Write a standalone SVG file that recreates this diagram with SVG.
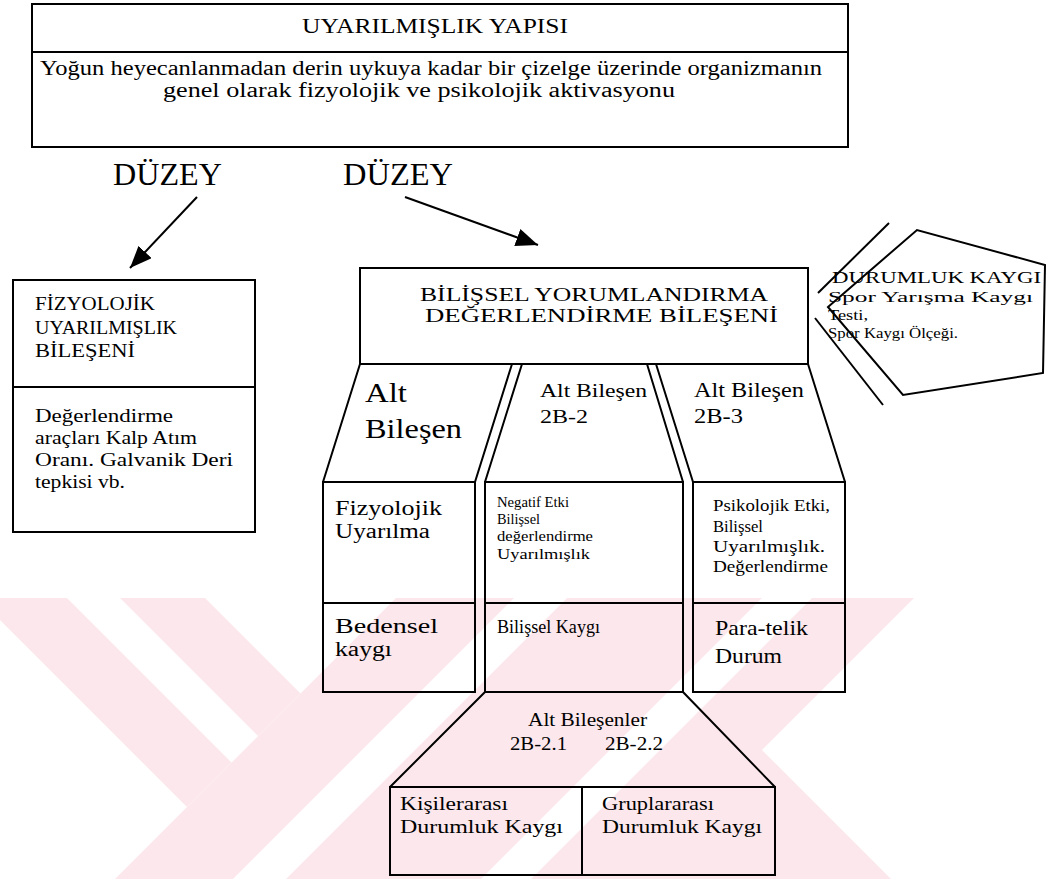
<svg xmlns="http://www.w3.org/2000/svg" width="1048" height="879" viewBox="0 0 1048 879">
<defs>
<style>
.ln{fill:none;stroke:#000;stroke-width:2;stroke-linejoin:miter}
.t{font-family:"Liberation Serif","Times New Roman",serif;fill:#000}
.wm{fill:#fce8ec;stroke:none}
.wh{fill:#fff;stroke:none}
</style>
<marker id="ah" markerUnits="userSpaceOnUse" markerWidth="24" markerHeight="18" refX="22" refY="9" orient="auto">
<path d="M0,0 L22,9 L0,18 Z" fill="#000"/>
</marker>
</defs>
<rect width="1048" height="879" fill="#fff"/>
<g id="watermark">
<polygon class="wm" points="0,598 205,598 300.5,693.5 187,807 0,620"/>
<polygon class="wm" points="396,598 914,598 762,750 891,879 115,879"/>
<polygon class="wh" points="67,598 120,598 258,736 231.5,762.5"/>
<polygon class="wh" points="514,598 567,598 286,879 233,879"/>
<polygon class="wh" points="762,598 812,598 531,879 481,879"/>
</g>
<g id="top">
<rect class="ln" x="32" y="4" width="816" height="143"/>
<line class="ln" x1="32" y1="52" x2="848" y2="52"/>
<text class="t" x="302" y="33" font-size="20" textLength="266" lengthAdjust="spacingAndGlyphs">UYARILMIŞLIK YAPISI</text>
<text class="t" x="40" y="75" font-size="20" textLength="782" lengthAdjust="spacingAndGlyphs">Yoğun heyecanlanmadan derin uykuya kadar bir çizelge üzerinde organizmanın</text>
<text class="t" x="163" y="97" font-size="20" textLength="512" lengthAdjust="spacingAndGlyphs">genel olarak fizyolojik ve psikolojik aktivasyonu</text>
</g>
<g id="duzey1"><text class="t" x="113" y="185" font-size="32" textLength="109" lengthAdjust="spacingAndGlyphs">DÜZEY</text></g>
<g id="duzey2"><text class="t" x="343" y="185" font-size="32" textLength="110" lengthAdjust="spacingAndGlyphs">DÜZEY</text></g>
<g id="connectors">
<line class="ln" x1="197" y1="197" x2="130" y2="268" marker-end="url(#ah)"/>
<line class="ln" x1="405" y1="197" x2="538" y2="245" marker-end="url(#ah)"/>
<line class="ln" x1="818" y1="293" x2="889" y2="223"/>
<line class="ln" x1="815" y1="318" x2="883" y2="405"/>
</g>
<g id="fizyolojik">
<rect class="ln" x="13" y="280" width="242" height="252"/>
<line class="ln" x1="13" y1="387" x2="255" y2="387"/>
<text class="t" x="35" y="310" font-size="19" textLength="120" lengthAdjust="spacingAndGlyphs">FİZYOLOJİK</text>
<text class="t" x="35" y="334" font-size="19" textLength="142" lengthAdjust="spacingAndGlyphs">UYARILMIŞLIK</text>
<text class="t" x="35" y="357" font-size="19" textLength="100" lengthAdjust="spacingAndGlyphs">BİLEŞENİ</text>
<text class="t" x="35" y="422" font-size="19.5" textLength="138" lengthAdjust="spacingAndGlyphs">Değerlendirme</text>
<text class="t" x="35" y="444" font-size="19.5" textLength="162" lengthAdjust="spacingAndGlyphs">araçları Kalp Atım</text>
<text class="t" x="35" y="466" font-size="19.5" textLength="198" lengthAdjust="spacingAndGlyphs">Oranı. Galvanik Deri</text>
<text class="t" x="35" y="488" font-size="19.5" textLength="90" lengthAdjust="spacingAndGlyphs">tepkisi vb.</text>
</g>
<g id="bilissel">
<rect class="ln" x="360" y="268" width="448" height="96"/>
<text class="t" x="420" y="301" font-size="19" textLength="348" lengthAdjust="spacingAndGlyphs">BİLİŞSEL YORUMLANDIRMA</text>
<text class="t" x="425" y="322" font-size="19" textLength="353" lengthAdjust="spacingAndGlyphs">DEĞERLENDİRME BİLEŞENİ</text>
</g>
<g id="alt1">
<path class="ln" d="M360,364 L323,482 M512,364 L475,482"/>
<text class="t" x="365" y="402" font-size="27" textLength="42" lengthAdjust="spacingAndGlyphs">Alt</text>
<text class="t" x="365" y="438" font-size="27" textLength="97" lengthAdjust="spacingAndGlyphs">Bileşen</text>
</g>
<g id="alt2">
<path class="ln" d="M522,364 L485,482 M647,364 L683,482"/>
<text class="t" x="540" y="397" font-size="19" textLength="107" lengthAdjust="spacingAndGlyphs">Alt Bileşen</text>
<text class="t" x="540" y="423" font-size="19" textLength="48" lengthAdjust="spacingAndGlyphs">2B-2</text>
</g>
<g id="alt3">
<path class="ln" d="M656,364 L693,482 M808,364 L845,482"/>
<text class="t" x="694" y="397" font-size="20" textLength="110" lengthAdjust="spacingAndGlyphs">Alt Bileşen</text>
<text class="t" x="694" y="423" font-size="20" textLength="49" lengthAdjust="spacingAndGlyphs">2B-3</text>
</g>
<g id="box1">
<rect class="ln" x="323" y="482" width="152" height="210"/>
<line class="ln" x1="323" y1="603" x2="475" y2="603"/>
<text class="t" x="335" y="515" font-size="20.5" textLength="107" lengthAdjust="spacingAndGlyphs">Fizyolojik</text>
<text class="t" x="335" y="538" font-size="20.5" textLength="95" lengthAdjust="spacingAndGlyphs">Uyarılma</text>
<text class="t" x="335" y="633" font-size="20" textLength="103" lengthAdjust="spacingAndGlyphs">Bedensel</text>
<text class="t" x="335" y="656" font-size="20" textLength="57" lengthAdjust="spacingAndGlyphs">kaygı</text>
</g>
<g id="box2">
<rect class="ln" x="485" y="482" width="198" height="210"/>
<line class="ln" x1="485" y1="603" x2="683" y2="603"/>
<text class="t" x="497" y="507" font-size="15" textLength="72" lengthAdjust="spacingAndGlyphs">Negatif Etki</text>
<text class="t" x="497" y="524" font-size="15" textLength="43" lengthAdjust="spacingAndGlyphs">Bilişsel</text>
<text class="t" x="497" y="541" font-size="15" textLength="96" lengthAdjust="spacingAndGlyphs">değerlendirme</text>
<text class="t" x="497" y="559" font-size="15" textLength="93" lengthAdjust="spacingAndGlyphs">Uyarılmışlık</text>
<text class="t" x="497" y="633" font-size="18.5" textLength="103" lengthAdjust="spacingAndGlyphs">Bilişsel Kaygı</text>
</g>
<g id="box3">
<rect class="ln" x="693" y="482" width="152" height="210"/>
<line class="ln" x1="693" y1="603" x2="845" y2="603"/>
<text class="t" x="713" y="511" font-size="16" textLength="117" lengthAdjust="spacingAndGlyphs">Psikolojik Etki,</text>
<text class="t" x="713" y="532" font-size="16" textLength="50" lengthAdjust="spacingAndGlyphs">Bilişsel</text>
<text class="t" x="713" y="552" font-size="16" textLength="112" lengthAdjust="spacingAndGlyphs">Uyarılmışlık.</text>
<text class="t" x="713" y="572" font-size="16" textLength="115" lengthAdjust="spacingAndGlyphs">Değerlendirme</text>
<text class="t" x="715" y="635" font-size="21" textLength="93" lengthAdjust="spacingAndGlyphs">Para-telik</text>
<text class="t" x="715" y="663" font-size="21" textLength="67" lengthAdjust="spacingAndGlyphs">Durum</text>
</g>
<g id="altbilesenler">
<path class="ln" d="M485,692 L390,787 M683,692 L775,787"/>
<text class="t" x="528" y="726" font-size="18" textLength="119" lengthAdjust="spacingAndGlyphs">Alt Bileşenler</text>
<text class="t" x="510" y="750" font-size="18" textLength="57" lengthAdjust="spacingAndGlyphs">2B-2.1</text>
<text class="t" x="605" y="750" font-size="18" textLength="58" lengthAdjust="spacingAndGlyphs">2B-2.2</text>
</g>
<g id="kisilerarasi">
<rect class="ln" x="390" y="787" width="192" height="88"/>
<text class="t" x="400" y="810" font-size="19.5" textLength="108" lengthAdjust="spacingAndGlyphs">Kişilerarası</text>
<text class="t" x="400" y="833" font-size="19.5" textLength="163" lengthAdjust="spacingAndGlyphs">Durumluk Kaygı</text>
</g>
<g id="gruplararasi">
<rect class="ln" x="582" y="787" width="193" height="88"/>
<text class="t" x="602" y="810" font-size="19.5" textLength="112" lengthAdjust="spacingAndGlyphs">Gruplararası</text>
<text class="t" x="602" y="833" font-size="19.5" textLength="160" lengthAdjust="spacingAndGlyphs">Durumluk Kaygı</text>
</g>
<g id="durumluk">
<polygon class="ln" points="828,307 917,230 1045,265 1043,373 903,395"/>
<text class="t" x="832" y="283" font-size="16" textLength="209" lengthAdjust="spacingAndGlyphs">DURUMLUK KAYGI</text>
<text class="t" x="828" y="302" font-size="15.5" textLength="205" lengthAdjust="spacingAndGlyphs">Spor Yarışma Kaygı</text>
<text class="t" x="828" y="320" font-size="15.5" textLength="40" lengthAdjust="spacingAndGlyphs">Testi,</text>
<text class="t" x="828" y="338" font-size="15.5" textLength="130" lengthAdjust="spacingAndGlyphs">Spor Kaygı Ölçeği.</text>
</g>
</svg>
